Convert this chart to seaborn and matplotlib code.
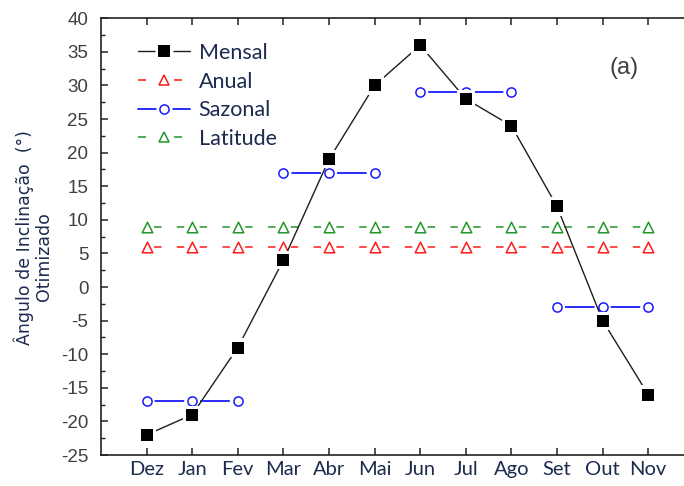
import numpy as np
import pandas as pd
import matplotlib
matplotlib.use("Agg")
import matplotlib.pyplot as plt
import seaborn as sns
from matplotlib.lines import Line2D
from matplotlib.legend_handler import HandlerTuple
from matplotlib.ticker import MultipleLocator

# Optimal tilt angle per month and for the three fixed strategies
meses = ["Dez", "Jan", "Fev", "Mar", "Abr", "Mai", "Jun", "Jul", "Ago", "Set", "Out", "Nov"]
mensal = [-22, -19, -9, 4, 19, 30, 36, 28, 24, 12, -5, -16]
anual = [6, 6, 6, 6, 6, 6, 6, 6, 6, 6, 6, 6]
latitude = [9, 9, 9, 9, 9, 9, 9, 9, 9, 9, 9, 9]
estacao = ["Verão", "Verão", "Verão", "Outono", "Outono", "Outono",
           "Inverno", "Inverno", "Inverno", "Primavera", "Primavera", "Primavera"]
sazonal = [-17, -17, -17, 17, 17, 17, 29, 29, 29, -3, -3, -3]
y_ticks = [40, 35, 30, 25, 20, 15, 10, 5, 0, -5, -10, -15, -20, -25]

sns.set_theme(style="white")
plt.rcParams["lines.scale_dashes"] = False
plt.rcParams["font.family"] = ["Liberation Sans", "DejaVu Sans"]

W, H, DPI = 684, 486, 100
fig = plt.figure(figsize=(W / DPI, H / DPI), dpi=DPI)
ax = fig.add_axes([101 / W, 31 / H, 1 - 101 / W, 436.7 / H])
ax.set_xlim(-1, 11.785)
ax.set_ylim(-25, 40)

pos = np.arange(len(meses))
df = pd.DataFrame({"pos": pos, "mensal": mensal, "anual": anual,
                   "latitude": latitude, "sazonal": sazonal, "estacao": estacao})

BLACK = "#1e1e1e"
RED = "#ff1a1a"
BLUE = "#1a1aff"
GREEN = "#23962b"
TXT = "#1c2b4f"

# dash period = half a month spacing, so each marker sits in a gap
px_unit = ax.transData.transform((1, 0))[0] - ax.transData.transform((0, 0))[0]
pt_unit = px_unit * 72 / DPI
on = 7.5 * 72 / DPI
off = pt_unit / 2 - on
start = 7.0 * 72 / DPI
dash_style = (on + off - start, (on, off))

TRI = 7.6
# constant strategies: dashed lines with hollow triangles
for col, c, z in [("latitude", GREEN, 2), ("anual", RED, 3)]:
    sns.lineplot(data=df, x="pos", y=col, color=c, lw=1.1, linestyle=dash_style,
                 estimator=None, ax=ax, zorder=z, legend=False)
    sns.scatterplot(data=df, x="pos", y=col, marker="^", s=TRI ** 2, facecolor="white",
                    edgecolor=c, linewidth=1.1, ax=ax, zorder=z + 0.2, legend=False)

# seasonal: one solid segment per season, gap around each circle
CIR = 6.6
sns.lineplot(data=df, x="pos", y="sazonal", units="estacao", estimator=None,
             color=BLUE, lw=1.3, ax=ax, zorder=4, legend=False)
sns.scatterplot(data=df, x="pos", y="sazonal", marker="o", s=(CIR + 5) ** 2,
                color="white", edgecolor="none", linewidth=0, ax=ax, zorder=4.1, legend=False)
sns.scatterplot(data=df, x="pos", y="sazonal", marker="o", s=CIR ** 2, facecolor="white",
                edgecolor=BLUE, linewidth=1.1, ax=ax, zorder=4.2, legend=False)

# monthly optimum
SQ = 8.6
sns.lineplot(data=df, x="pos", y="mensal", color=BLACK, lw=1.0, estimator=None,
             ax=ax, zorder=6, legend=False)
sns.scatterplot(data=df, x="pos", y="mensal", marker="s", s=(SQ + 4.5) ** 2,
                color="white", edgecolor="none", linewidth=0, ax=ax, zorder=6.1, legend=False)
sns.scatterplot(data=df, x="pos", y="mensal", marker="s", s=SQ ** 2, color="black",
                edgecolor="black", linewidth=0, ax=ax, zorder=6.2, legend=False)

# axes styling
ax.set_xticks(pos)
ax.set_xticklabels(meses, family=["Lato", "DejaVu Sans"], fontsize=14.5, color=TXT)
ax.set_yticks(y_ticks)
ax.set_yticklabels([str(v) for v in y_ticks], fontsize=13.5, color="#404040")
ax.yaxis.set_minor_locator(MultipleLocator(2.5))
ax.tick_params(axis="x", which="major", direction="in", length=5, width=1.1,
               color="#222222", top=True, bottom=True, pad=4)
ax.tick_params(axis="y", which="major", direction="in", length=5, width=1.1,
               color="#222222", left=True, right=False, pad=9)
ax.tick_params(axis="y", which="minor", direction="in", length=2.8, width=1.0,
               color="#222222", left=True, right=False)
ax.set_xlabel("")
ax.set_ylabel("")
for side in ["left", "bottom", "top"]:
    ax.spines[side].set_color("#222222")
    ax.spines[side].set_linewidth(1.2)
ax.spines["right"].set_visible(False)

# y axis title in two lines
ylab_font = ["DejaVu Sans"]
fig.text(24 / W, 1 - 238 / H, "Ângulo de Inclinação  (°)", rotation=90,
         ha="center", va="center", fontsize=12.5, color=TXT, family=ylab_font)
fig.text(44.5 / W, 1 - 257 / H, "Otimizado", rotation=90,
         ha="center", va="center", fontsize=12.5, color=TXT, family=ylab_font)

# panel tag
fig.text(624 / W, 1 - 68 / H, "(a)", ha="center", va="center", fontsize=17, color="#404040")

# legend
leg_dash = (0, (8 * 0.72, 28 * 0.72, 8 * 0.72, 80))
h_mensal = (Line2D([], [], color=BLACK, lw=1.0),
            Line2D([], [], ls="", marker="s", ms=SQ + 4.5, mfc="white", mec="none"),
            Line2D([], [], ls="", marker="s", ms=SQ, mfc="black", mec="black", mew=0))
h_anual = (Line2D([], [], color=RED, lw=1.1, linestyle=leg_dash),
           Line2D([], [], ls="", marker="^", ms=TRI, mfc="white", mec=RED, mew=1.1))
h_saz = (Line2D([], [], color=BLUE, lw=1.3),
         Line2D([], [], ls="", marker="o", ms=CIR + 5, mfc="white", mec="none"),
         Line2D([], [], ls="", marker="o", ms=CIR, mfc="white", mec=BLUE, mew=1.1))
h_lat = (Line2D([], [], color=GREEN, lw=1.1, linestyle=leg_dash),
         Line2D([], [], ls="", marker="^", ms=TRI, mfc="white", mec=GREEN, mew=1.1))
leg = ax.legend([h_mensal, h_anual, h_saz, h_lat], ["Mensal", "Anual", "Sazonal", "Latitude"],
                handler_map={tuple: HandlerTuple(ndivide=1, pad=0)},
                loc="upper left", bbox_to_anchor=(138 / W, 1 - 43 / H),
                bbox_transform=fig.transFigure, frameon=False, borderpad=0,
                borderaxespad=0, handlelength=2.4, handletextpad=0.42,
                labelspacing=0.4, prop={"family": ["Lato", "DejaVu Sans"], "size": 15.5})
for t in leg.get_texts():
    t.set_color(TXT)
leg.set_zorder(10)

fig.savefig("out.png", dpi=DPI)
